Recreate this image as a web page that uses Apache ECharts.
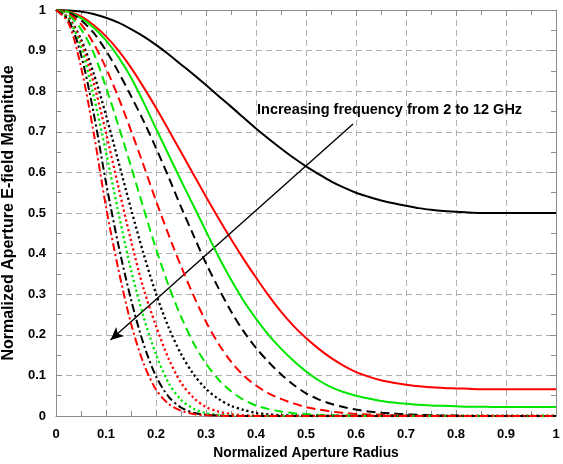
<!DOCTYPE html>
<html>
<head>
<meta charset="utf-8">
<script src="https://cdn.jsdelivr.net/npm/echarts@6/dist/echarts.min.js"></script>
<style>
html,body{margin:0;padding:0;background:#fff;}
#chart{width:563px;height:464px;}
</style>
</head>
<body>
<div id="chart"></div>
<script>
// Tick labels
const xTicks = [0,0.1,0.2,0.3,0.4,0.5,0.6,0.7,0.8,0.9,1];
const yTicks = [0,0.1,0.2,0.3,0.4,0.5,0.6,0.7,0.8,0.9,1];

// Normalized aperture radius (x), sampled every 0.025
const radius = [0,0.025,0.05,0.075,0.1,0.125,0.15,0.175,0.2,0.225,0.25,0.275,0.3,0.325,0.35,0.375,0.4,0.425,0.45,0.475,0.5,0.525,0.55,0.575,0.6,0.625,0.65,0.675,0.7,0.725,0.75,0.775,0.8,0.825,0.85,0.875,0.9,0.925,0.95,0.975,1];

// Normalized E-field magnitude for each frequency
const f2GHz = [1,0.999,0.996,0.99,0.981,0.969,0.953,0.935,0.914,0.891,0.866,0.841,0.815,0.788,0.762,0.735,0.708,0.683,0.659,0.636,0.615,0.596,0.578,0.563,0.55,0.54,0.531,0.524,0.518,0.512,0.508,0.505,0.503,0.501,0.5,0.5,0.5,0.5,0.5,0.5,0.5];
const f3GHz = [1,0.996,0.984,0.963,0.935,0.9,0.858,0.81,0.759,0.705,0.65,0.595,0.54,0.487,0.436,0.387,0.341,0.297,0.257,0.222,0.192,0.166,0.143,0.124,0.108,0.097,0.088,0.082,0.077,0.073,0.071,0.069,0.068,0.067,0.066,0.066,0.066,0.066,0.066,0.066,0.066];
const f4GHz = [1,0.995,0.98,0.957,0.925,0.884,0.834,0.773,0.708,0.644,0.58,0.518,0.455,0.393,0.336,0.284,0.24,0.2,0.166,0.136,0.11,0.088,0.071,0.059,0.05,0.043,0.037,0.033,0.03,0.028,0.026,0.025,0.024,0.023,0.023,0.022,0.022,0.022,0.022,0.022,0.022];
const f5GHz = [1,0.994,0.975,0.944,0.9,0.847,0.788,0.727,0.66,0.589,0.515,0.445,0.376,0.315,0.258,0.209,0.168,0.133,0.103,0.077,0.056,0.041,0.03,0.022,0.016,0.011,0.008,0.006,0.004,0.003,0.002,0.001,0.001,0,0,0,0,0,0,0,0];
const f6GHz = [1,0.991,0.965,0.918,0.857,0.784,0.703,0.618,0.53,0.447,0.369,0.297,0.232,0.178,0.134,0.1,0.075,0.056,0.042,0.031,0.022,0.016,0.011,0.008,0.005,0.004,0.003,0.002,0.001,0,0,0,0,0,0,0,0,0,0,0,0];
const f7GHz = [1,0.988,0.953,0.895,0.81,0.715,0.615,0.512,0.412,0.322,0.245,0.18,0.129,0.09,0.061,0.04,0.026,0.017,0.011,0.007,0.005,0.003,0.002,0.001,0.001,0,0,0,0,0,0,0,0,0,0,0,0,0,0,0,0];
const f8GHz = [1,0.981,0.928,0.845,0.741,0.626,0.51,0.4,0.301,0.219,0.153,0.103,0.067,0.042,0.025,0.015,0.008,0.004,0.002,0.001,0,0,0,0,0,0,0,0,0,0,0,0,0,0,0,0,0,0,0,0,0];
const f9GHz = [1,0.98,0.92,0.822,0.697,0.563,0.432,0.314,0.222,0.142,0.082,0.045,0.022,0.011,0.005,0.002,0.001,0,0,0,0,0,0,0,0,0,0,0,0,0,0,0,0,0,0,0,0,0,0,0,0];
const f10GHz = [1,0.977,0.91,0.79,0.65,0.5,0.36,0.245,0.152,0.082,0.04,0.018,0.007,0.003,0.001,0,0,0,0,0,0,0,0,0,0,0,0,0,0,0,0,0,0,0,0,0,0,0,0,0,0];
const f11GHz = [1,0.975,0.89,0.748,0.575,0.42,0.287,0.178,0.098,0.048,0.021,0.008,0.003,0.001,0,0,0,0,0,0,0,0,0,0,0,0,0,0,0,0,0,0,0,0,0,0,0,0,0,0,0];
const f12GHz = [1,0.968,0.86,0.7,0.515,0.36,0.228,0.13,0.065,0.03,0.013,0.005,0.002,0.001,0,0,0,0,0,0,0,0,0,0,0,0,0,0,0,0,0,0,0,0,0,0,0,0,0,0,0];

const curves = [f2GHz,f3GHz,f4GHz,f5GHz,f6GHz,f7GHz,f8GHz,f9GHz,f10GHz,f11GHz,f12GHz];
const curveNames = ['2 GHz','3 GHz','4 GHz','5 GHz','6 GHz','7 GHz','8 GHz','9 GHz','10 GHz','11 GHz','12 GHz'];

// Annotation (data coordinates)
const annotationText = 'Increasing frequency from 2 to 12 GHz';
const annotationPos = [0.402, 0.754];
const arrowFrom = [0.594, 0.719];
const arrowTo = [0.109, 0.187];

// Styles
const BLACK = '#000000', RED = '#ff0000', GREEN = '#00e600';
const DASH = [9, 5], DOT = [2.2, 2.8], DASHDOT = [8, 3, 2.2, 3];
const styles = [
  {color: BLACK, type: 'solid'},
  {color: RED, type: 'solid'},
  {color: GREEN, type: 'solid'},
  {color: BLACK, type: DASH},
  {color: RED, type: DASH},
  {color: GREEN, type: DASH},
  {color: BLACK, type: DOT},
  {color: RED, type: DOT},
  {color: GREEN, type: DOT},
  {color: BLACK, type: DASHDOT},
  {color: RED, type: DASHDOT}
];

const FONT = 'Liberation Sans, Arial, Helvetica, sans-serif';
const fmt = v => String(+(+v).toFixed(1));

const series = curves.map((ys, i) => ({
  name: curveNames[i],
  type: 'line',
  data: radius.map((x, k) => [x, ys[k]]),
  xAxisIndex: 0,
  yAxisIndex: 0,
  showSymbol: false,
  symbol: 'none',
  smooth: 0.3,
  silent: true,
  animation: false,
  lineStyle: {color: styles[i].color, type: styles[i].type, width: i >= 6 && i <= 8 ? 2.3 : 2, cap: 'butt'},
  z: 3 + i
}));

series.push({
  type: 'line',
  data: [],
  silent: true,
  animation: false,
  markLine: {
    silent: true,
    animation: false,
    symbol: ['none', 'arrow'],
    symbolSize: [9, 13],
    label: {show: false},
    lineStyle: {color: '#000', width: 1.4, type: 'solid'},
    data: [[{coord: arrowFrom}, {coord: arrowTo}]]
  },
  markPoint: {
    silent: true,
    animation: false,
    symbol: 'circle',
    symbolSize: 0,
    data: [{coord: annotationPos, value: annotationText}],
    label: {
      show: true,
      position: 'right',
      distance: 0,
      formatter: annotationText,
      color: '#000',
      fontFamily: FONT,
      fontWeight: 'bold',
      fontSize: 14.5
    }
  },
  z: 20
});

const axisCommon = {
  type: 'value', min: 0, max: 1, interval: 0.1,
  axisLine: {show: true, onZero: false, lineStyle: {color: '#8c8c8c', width: 1}},
  axisTick: {show: true, inside: true, length: 6, lineStyle: {color: '#8c8c8c'}},
  minorTick: {show: true, splitNumber: 2, length: 5, lineStyle: {color: '#8c8c8c'}},
};

const chart = echarts.init(document.getElementById('chart'), null, {renderer: 'canvas'});
chart.setOption({
  animation: false,
  backgroundColor: '#fff',
  grid: {left: 56, right: 7, top: 10, bottom: 48, containLabel: false, outerBoundsMode: 'none'},
  xAxis: [
    Object.assign({}, axisCommon, {
      position: 'bottom',
      name: 'Normalized Aperture Radius',
      nameLocation: 'middle',
      nameGap: 29,
      nameTextStyle: {color: '#000', fontFamily: FONT, fontWeight: 'bold', fontSize: 13.8},
      axisLabel: {show: true, margin: 12, color: '#000', fontFamily: FONT, fontWeight: 'bold', fontSize: 13,
        formatter: v => xTicks.some(t => Math.abs(t - v) < 1e-9) ? fmt(v) : ''},
      splitLine: {show: true, lineStyle: {color: '#b0b0b0', type: [6, 4], width: 1}}
    }),
    Object.assign({}, axisCommon, {
      position: 'top',
      axisLabel: {show: false},
      splitLine: {show: false}
    })
  ],
  yAxis: [
    Object.assign({}, axisCommon, {
      position: 'left',
      name: 'Normalized Aperture E-field Magnitude',
      nameLocation: 'middle',
      nameGap: 39,
      nameTextStyle: {color: '#000', fontFamily: FONT, fontWeight: 'bold', fontSize: 16},
      axisLabel: {show: true, margin: 10, color: '#000', fontFamily: FONT, fontWeight: 'bold', fontSize: 13,
        formatter: v => yTicks.some(t => Math.abs(t - v) < 1e-9) ? fmt(v) : ''},
      splitLine: {show: true, lineStyle: {color: '#b0b0b0', type: [6, 4], width: 1}}
    }),
    Object.assign({}, axisCommon, {
      position: 'right',
      axisLabel: {show: false},
      splitLine: {show: false}
    })
  ],
  series: series
});
</script>
</body>
</html>
